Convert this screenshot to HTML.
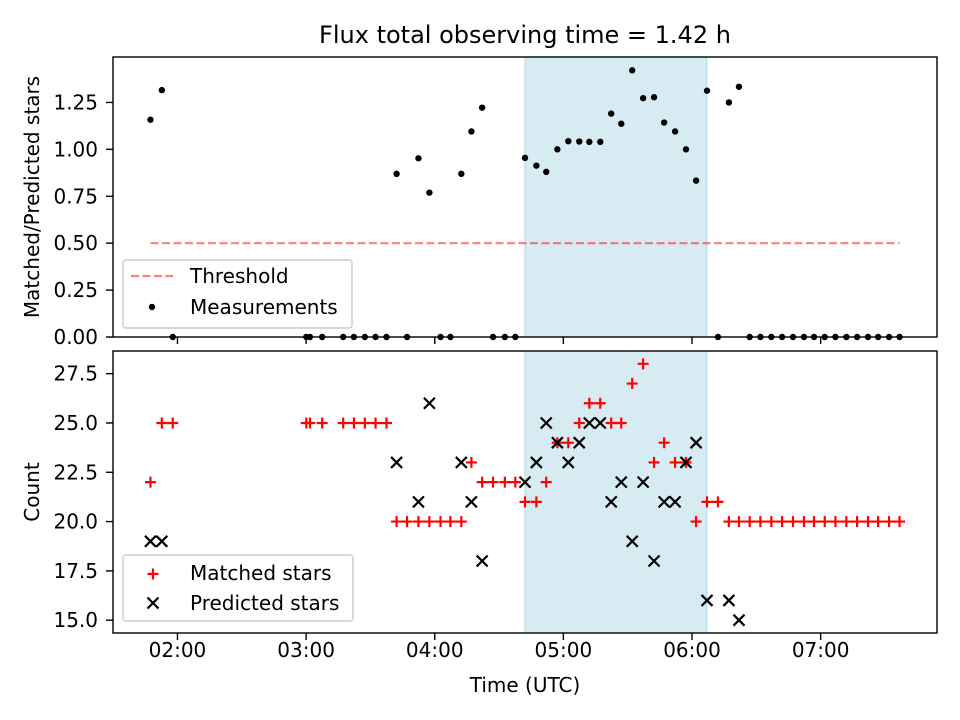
<!DOCTYPE html>
<html><head><meta charset="utf-8"><style>
html,body{margin:0;padding:0;background:#fff;}
svg{display:block;font-family:"DejaVu Sans","Liberation Sans",sans-serif;}
</style></head><body>
<svg id="chart" width="960" height="720" viewBox="0 0 960 720" xmlns="http://www.w3.org/2000/svg"></svg>
<script>
// Observation times (minutes after 00:00 UTC)
const times = [107.4,112.7,117.8,180.1,181.8,187.5,197.3,202.3,207.4,212.4,217.5,222.2,227.1,232.4,237.5,242.7,247.3,252.4,257.1,262.1,267.2,272.7,277.6,282.1,287.4,292.0,297.2,302.3,307.4,312.1,317.2,322.3,327.0,332.1,337.2,342.3,347.0,352.1,357.2,361.9,367.0,372.1,377.2,381.9,386.9,391.9,397.0,402.0,407.1,412.2,416.9,421.9,426.9,432.0,437.0,442.1,446.8,451.9,456.8];
const matched = [22,25,25,25,25,25,25,25,25,25,25,20,20,20,20,20,20,20,23,22,22,22,22,21,21,22,24,24,25,26,26,25,25,27,28,23,24,23,23,20,21,21,20,20,20,20,20,20,20,20,20,20,20,20,20,20,20,20,20];
const predicted = [19,19,null,null,null,null,null,null,null,null,null,23,null,21,26,null,null,23,21,18,null,null,null,22,23,25,24,23,24,25,25,21,22,19,22,18,21,21,23,24,16,null,16,15,null,null,null,null,null,null,null,null,null,null,null,null,null,null,null];
const threshold = 0.5;
const window_start = 282.1, window_end = 366.9;
const topTicks = [0,0.25,0.5,0.75,1.0,1.25];
const botTicks = [15,17.5,20,22.5,25,27.5];
const xTickMinutes = [120,180,240,300,360,420];
const xTickLabels = ["02:00","03:00","04:00","05:00","06:00","07:00"];

const NS="http://www.w3.org/2000/svg";
const svg=document.getElementById('chart');
function mk(tag,attrs,parent){const e=document.createElementNS(NS,tag);for(const k in attrs)e.setAttribute(k,attrs[k]);(parent||svg).appendChild(e);return e;}
const FS='20';
const ratio = times.map((t,i)=>predicted[i]?matched[i]/predicted[i]:0);
const L=113,R=937, T1=57,B1=337, T2=351,B2=633;
const tmin=Math.min(...times), tmax=Math.max(...times), tr=tmax-tmin;
const x0=tmin-0.05*tr, x1=tmax+0.05*tr;
const X=t=>L+(t-x0)/(x1-x0)*(R-L);
const rmax=Math.max(...ratio);
const y1max=rmax*1.05;
const Y1=v=>B1-(v/y1max)*(B1-T1);
const allc=matched.concat(predicted.filter(v=>v!==null));
const cmin=Math.min(...allc), cmax=Math.max(...allc), cr=cmax-cmin;
const c0=cmin-0.05*cr, c1=cmax+0.05*cr;
const Y2=v=>B2-(v-c0)/(c1-c0)*(B2-T2);

let e=mk('text',{x:525,y:43,'text-anchor':'middle','font-size':'24'});e.textContent='Flux total observing time = 1.42 h';



function panel(T,B,name){
  const g=mk('g',{});
  
  
  const s=mk('rect',{x:X(window_start),y:T,width:X(window_end)-X(window_start),height:B-T,fill:'#add8e6','fill-opacity':0.5,stroke:'#add8e6','stroke-width':1},g);
  
  
  return g;
}
function frame(T,B,g){
  const f=mk('rect',{x:L,y:T,width:R-L,height:B-T,fill:'none',stroke:'#000','stroke-width':1.4},g);
  
  
}
function xticks(B,g,labels){
  xTickMinutes.forEach((m,i)=>{
    mk('line',{x1:X(m),x2:X(m),y1:B,y2:B+7,stroke:'#000','stroke-width':1.4},g);
    if(labels){const t=mk('text',{x:X(m),y:B+24,'text-anchor':'middle','font-size':FS},g);t.textContent=xTickLabels[i];
      
      }
  });
}
function yticks(ticks,Y,g,fmt){
  ticks.forEach(v=>{
    mk('line',{x1:L-7,x2:L,y1:Y(v),y2:Y(v),stroke:'#000','stroke-width':1.4},g);
    const t=mk('text',{x:L-15,y:Y(v)+7,'text-anchor':'end','font-size':FS},g);t.textContent=fmt(v);
    
    
  });
}
const g1=panel(T1,B1,'ratio-panel');
const th=mk('line',{x1:X(tmin),x2:X(tmax),y1:Y1(threshold),y2:Y1(threshold),stroke:'#ff0000','stroke-opacity':0.5,'stroke-width':2.2,'stroke-dasharray':'8,3.5'},g1);


times.forEach((t,i)=>{const c=mk('circle',{cx:X(t),cy:Y1(ratio[i]),r:3.2,fill:'#000'},g1);
  
  });
frame(T1,B1,g1);xticks(B1,g1,false);yticks(topTicks,Y1,g1,v=>v.toFixed(2));
e=mk('text',{x:39,y:(T1+B1)/2,'text-anchor':'middle','font-size':FS,transform:`rotate(-90 39 ${(T1+B1)/2})`},g1);e.textContent='Matched/Predicted stars';


const lg1=mk('g',{});


mk('rect',{x:123,y:260,width:229,height:68,rx:3,fill:'#fff','fill-opacity':0.8,stroke:'#ccc','stroke-width':1.4},lg1);
mk('line',{x1:131,x2:173,y1:276,y2:276,stroke:'#ff0000','stroke-opacity':0.5,'stroke-width':2.2,'stroke-dasharray':'8,3.5'},lg1);
e=mk('text',{x:190,y:283,'font-size':FS},lg1);e.textContent='Threshold';


mk('circle',{cx:152,cy:307,r:3.2,fill:'#000'},lg1);
e=mk('text',{x:190,y:314,'font-size':FS},lg1);e.textContent='Measurements';



const g2=panel(T2,B2,'count-panel');
function plus(cx,cy,g){return mk('path',{d:`M${cx-5.5},${cy}H${cx+5.5}M${cx},${cy-5.5}V${cy+5.5}`,stroke:'#ff0000','stroke-width':2.2,fill:'none'},g);}
function cross(cx,cy,g){return mk('path',{d:`M${cx-5.5},${cy-5.5}L${cx+5.5},${cy+5.5}M${cx-5.5},${cy+5.5}L${cx+5.5},${cy-5.5}`,stroke:'#000','stroke-width':2.2,fill:'none'},g);}
times.forEach((t,i)=>{const p=plus(X(t),Y2(matched[i]),g2);
  
  });
times.forEach((t,i)=>{if(predicted[i]===null)return;const p=cross(X(t),Y2(predicted[i]),g2);
  
  });
frame(T2,B2,g2);xticks(B2,g2,true);yticks(botTicks,Y2,g2,v=>v.toFixed(1));
e=mk('text',{x:39,y:(T2+B2)/2,'text-anchor':'middle','font-size':FS,transform:`rotate(-90 39 ${(T2+B2)/2})`},g2);e.textContent='Count';


e=mk('text',{x:525,y:692,'text-anchor':'middle','font-size':FS},g2);e.textContent='Time (UTC)';


const lg2=mk('g',{});


mk('rect',{x:123,y:555,width:230,height:66,rx:3,fill:'#fff','fill-opacity':0.8,stroke:'#ccc','stroke-width':1.4},lg2);
plus(153,574,lg2);
e=mk('text',{x:190,y:580,'font-size':FS},lg2);e.textContent='Matched stars';


cross(153,603,lg2);
e=mk('text',{x:190,y:610,'font-size':FS},lg2);e.textContent='Predicted stars';


</script>
</body></html>
